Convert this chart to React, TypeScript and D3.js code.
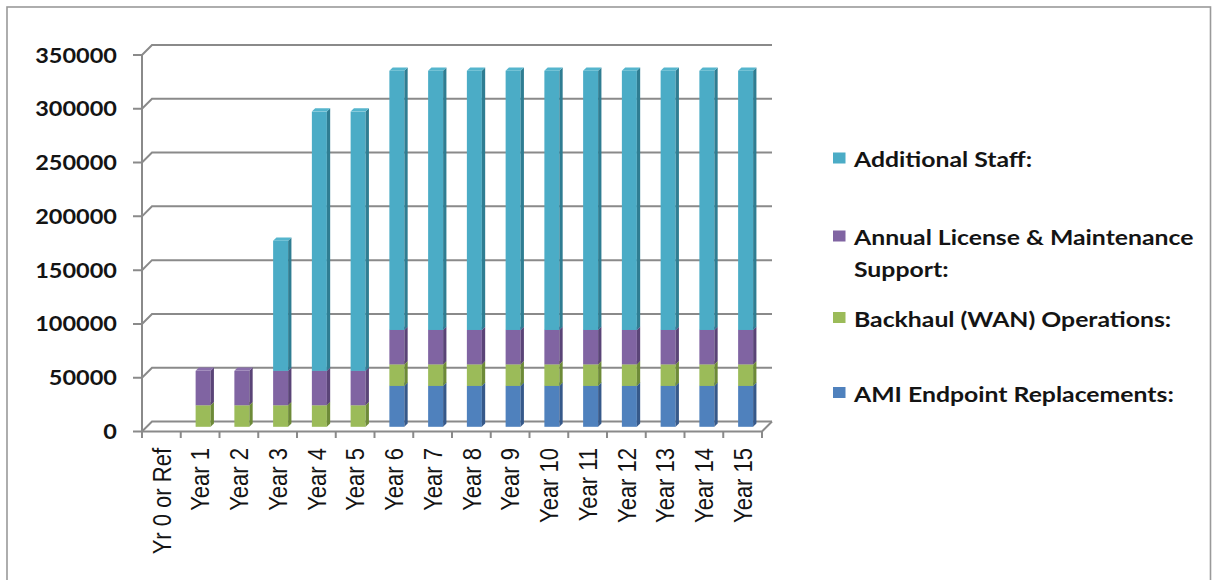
import React from "react";
import * as d3 from "d3";

const categories = [
  "Yr 0 or Ref", "Year 1", "Year 2", "Year 3", "Year 4", "Year 5", "Year 6", "Year 7",
  "Year 8", "Year 9", "Year 10", "Year 11", "Year 12", "Year 13", "Year 14", "Year 15",
];

const amiEndpoint = [0, 0, 0, 0, 0, 0, 38000, 38000, 38000, 38000, 38000, 38000, 38000, 38000, 38000, 38000];
const backhaulOps = [0, 20000, 20000, 20000, 20000, 20000, 20000, 20000, 20000, 20000, 20000, 20000, 20000, 20000, 20000, 20000];
const licenseSupport = [0, 32000, 32000, 32000, 32000, 32000, 32000, 32000, 32000, 32000, 32000, 32000, 32000, 32000, 32000, 32000];
const additionalStaff = [0, 0, 0, 121000, 241000, 241000, 241000, 241000, 241000, 241000, 241000, 241000, 241000, 241000, 241000, 241000];

const yTicks = [0, 50000, 100000, 150000, 200000, 250000, 300000, 350000];

// front / side / top shades per series, bottom of the stack first
const palette = [
  { front: "#4f81bd", side: "#36598a", top: "#5b8cc6" },
  { front: "#9bbb59", side: "#6d8a38", top: "#a6c465" },
  { front: "#8064a2", side: "#5a4477", top: "#8a6fab" },
  { front: "#4bacc6", side: "#2f7d92", top: "#55b5cd" },
];

const W = 1213;
const H = 580;
const X0 = 142;
const X1 = 762;
const Y0 = 431.5;
const Y1 = 55;
const WALL = 10; // depth of the back wall
const BAR_W = 15;
const BAR_D = 3.3;
const BAR_SHIFT_X = 3;
const BAR_SHIFT_Y = -4.7;
const GRID = "#8a8a8a";
const TEXT = "#141414";
const SANS = "Lato, 'Open Sans', sans-serif";
const AXIS_STRETCH = 1.12;
const LEGEND_STRETCH = 1.18;

export default function App() {
  const x = d3.scaleBand<string>().domain(categories).range([X0, X1]);
  const y = d3.scaleLinear().domain([0, 350000]).range([Y0, Y1]);

  const rows = categories.map((c, i) => ({
    cat: c,
    ami: amiEndpoint[i],
    wan: backhaulOps[i],
    lic: licenseSupport[i],
    staff: additionalStaff[i],
  }));
  const stacked = d3.stack<any>().keys(["ami", "wan", "lic", "staff"])(rows);

  const bw = x.bandwidth();

  const legendItems = [
    { lines: ["Additional Staff:"], color: palette[3].front, base: 167 },
    { lines: ["Annual License & Maintenance", "Support:"], color: palette[2].front, base: 245 },
    { lines: ["Backhaul (WAN) Operations:"], color: palette[1].front, base: 326.5 },
    { lines: ["AMI Endpoint Replacements:"], color: palette[0].front, base: 401.5 },
  ];

  return (
    <svg
      width={W}
      height={H}
      style={{ position: "absolute", left: 0, top: 0, background: "#fff" }}
    >
      <rect x={7} y={7} width={1203.5} height={640} fill="#fff" stroke="#9a9a9a" strokeWidth={1.6} />

      {/* back wall gridlines with their diagonal run to the front axis */}
      {yTicks.map((t) => {
        const yf = y(t);
        return (
          <path
            key={`g${t}`}
            d={`M${X0 - 9},${yf} L${X0},${yf} L${X0 + WALL},${yf - WALL} L${X1 + WALL},${yf - WALL}`}
            fill="none"
            stroke={GRID}
            strokeWidth={2}
          />
        );
      })}

      {/* floor front edge and right side */}
      <path
        d={`M${X0},${Y0} L${X1},${Y0} L${X1 + WALL},${Y0 - WALL}`}
        fill="none"
        stroke={GRID}
        strokeWidth={2}
      />
      {/* value axis */}
      <line x1={X0} x2={X0} y1={Y1} y2={Y0} stroke={GRID} strokeWidth={2} />

      {/* category ticks */}
      {d3.range(categories.length + 1).map((k) => {
        const xx = X0 + k * bw;
        return <line key={`t${k}`} x1={xx} x2={xx} y1={Y0} y2={Y0 + 6.5} stroke={GRID} strokeWidth={2} />;
      })}

      {/* stacked 3D columns */}
      {stacked.map((layer, si) =>
        layer.map((seg, ci) => {
          const [v0, v1] = seg;
          if (v1 - v0 <= 0) return null;
          const bx = (x(categories[ci]) as number) + (bw - BAR_W) / 2 + BAR_SHIFT_X;
          const top = y(v1) + BAR_SHIFT_Y;
          const bot = y(v0) + BAR_SHIFT_Y;
          const c = palette[si];
          return (
            <g key={`b${si}-${ci}`}>
              <rect x={bx} y={top} width={BAR_W} height={bot - top} fill={c.front} />
              <polygon
                points={`${bx + BAR_W},${top} ${bx + BAR_W + BAR_D},${top - BAR_D} ${bx + BAR_W + BAR_D},${bot - BAR_D} ${bx + BAR_W},${bot}`}
                fill={c.side}
              />
              <polygon
                points={`${bx},${top} ${bx + BAR_D},${top - BAR_D} ${bx + BAR_W + BAR_D},${top - BAR_D} ${bx + BAR_W},${top}`}
                fill={c.top}
              />
            </g>
          );
        })
      )}

      {/* value labels */}
      {yTicks.map((t) => (
        <text
          key={`yl${t}`}
          transform={`translate(117,${y(t)}) scale(${AXIS_STRETCH},1)`}
          textAnchor="end"
          dy="0.36em"
          fontFamily={SANS}
          fontWeight={700}
          fontSize={21}
          fill={TEXT}
        >
          {t}
        </text>
      ))}

      {/* category labels */}
      {categories.map((c) => (
        <text
          key={`xl${c}`}
          transform={`translate(${(x(c) as number) + bw / 2},448) scale(1.16,1) rotate(-90)`}
          textAnchor="end"
          dy="0.36em"
          fontFamily="'Liberation Sans', Arial, sans-serif"
          fontSize={22}
          fill={TEXT}
        >
          {c}
        </text>
      ))}

      {/* legend */}
      {legendItems.map((it) => (
        <g key={it.lines[0]}>
          <rect x={833} y={it.base - 14.5} width={12.5} height={11} fill={it.color} />
          {it.lines.map((ln, li) => (
            <text
              key={ln}
              transform={`translate(854,${it.base + li * 31.5}) scale(${LEGEND_STRETCH},1)`}
              fontFamily={SANS}
              fontWeight={700}
              fontSize={21}
              fill={TEXT}
            >
              {ln}
            </text>
          ))}
        </g>
      ))}
    </svg>
  );
}
